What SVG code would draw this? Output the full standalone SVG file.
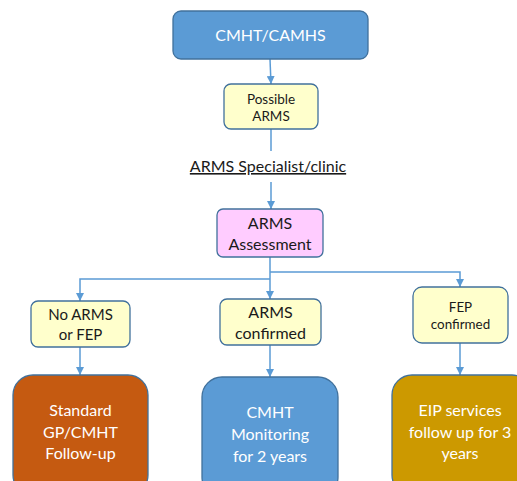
<svg xmlns="http://www.w3.org/2000/svg" width="517" height="481" viewBox="0 0 517 481">
<defs>
<marker id="ah" viewBox="0 0 10 10" refX="10" refY="5" markerWidth="8" markerHeight="8" markerUnits="userSpaceOnUse" orient="auto"><path d="M0,0 L10,5 L0,10 z" fill="#5B9BD5"/></marker>
</defs>
<style>
text{font-family:Lato,"Open Sans","Liberation Sans",sans-serif;text-anchor:middle}
.con{fill:none;stroke:#5B9BD5;stroke-width:1.5;marker-end:url(#ah)}
.ln{fill:none;stroke:#5B9BD5;stroke-width:1.5}
.y{fill:#FFFFCC;stroke:#41719C;stroke-width:1.3}
.dk{font-size:15px;fill:#1a1a1a}
.wt{font-size:16px;fill:#ffffff}
</style>
<rect width="517" height="481" fill="#ffffff"/>
<g id="connectors">
<path class="con" d="M270,59 L271,84"/>
<path class="ln" d="M271,129 L271,151"/>
<path class="con" d="M271,182 L271,209"/>
<path class="ln" d="M270,257 L270,279"/>
<path class="con" d="M270,279 L80,279 L80,301"/>
<path class="con" d="M270,279 L270,299"/>
<path class="con" d="M270,272 L460,272 L460,287"/>
<path class="con" d="M80,347 L80,375"/>
<path class="con" d="M270,345 L270,377"/>
<path class="con" d="M460,343 L460,375"/>
</g>
<g id="cmht-camhs">
<rect x="173" y="11" width="195" height="48" rx="8" fill="#5B9BD5" stroke="#41719C" stroke-width="1.3"/>
<text x="270.5" y="41" class="wt">CMHT/CAMHS</text>
</g>
<g id="possible-arms">
<rect class="y" x="224" y="84" width="94" height="45" rx="7"/>
<text x="271" y="104" class="dk" style="font-size:13.5px">Possible</text>
<text x="271" y="121" class="dk" style="font-size:13.5px">ARMS</text>
</g>
<g id="arms-specialist">
<text x="268" y="172" style="font-size:16px;fill:#1a1a1a;text-decoration:underline">ARMS Specialist/clinic</text>
</g>
<g id="arms-assessment">
<rect x="217" y="209" width="106" height="48" rx="6" fill="#FFCCFF" stroke="#41719C" stroke-width="1.3"/>
<text x="270" y="229" class="dk" style="font-size:16px">ARMS</text>
<text x="270" y="250" class="dk" style="font-size:16px">Assessment</text>
</g>
<g id="no-arms">
<rect class="y" x="31" y="301" width="99" height="46" rx="7"/>
<text x="80.5" y="320" class="dk">No ARMS</text>
<text x="80.5" y="340" class="dk">or FEP</text>
</g>
<g id="arms-confirmed">
<rect class="y" x="220" y="299" width="101" height="46" rx="7"/>
<text x="270.5" y="318" class="dk" style="font-size:16px">ARMS</text>
<text x="270.5" y="339" class="dk" style="font-size:16px">confirmed</text>
</g>
<g id="fep-confirmed">
<rect class="y" x="413" y="287" width="95" height="56" rx="9"/>
<text x="460.5" y="312" class="dk" style="font-size:13.4px">FEP</text>
<text x="460.5" y="329" class="dk" style="font-size:13.4px">confirmed</text>
</g>
<g id="standard">
<rect x="13" y="375" width="135" height="120" rx="20" fill="#C55A11" stroke="#41719C" stroke-width="1.3"/>
<text x="80.5" y="416" class="wt">Standard</text>
<text x="80.5" y="438" class="wt">GP/CMHT</text>
<text x="80.5" y="459" class="wt">Follow-up</text>
</g>
<g id="cmht-monitoring">
<rect x="202" y="377" width="136" height="120" rx="20" fill="#5B9BD5" stroke="#41719C" stroke-width="1.3"/>
<text x="270" y="418" class="wt">CMHT</text>
<text x="270" y="440" class="wt">Monitoring</text>
<text x="270" y="462" class="wt">for 2 years</text>
</g>
<g id="eip-services">
<rect x="392" y="375" width="140" height="120" rx="20" fill="#CC9900" stroke="#41719C" stroke-width="1.3"/>
<text x="460" y="416" class="wt">EIP services</text>
<text x="460" y="438" class="wt">follow up for 3</text>
<text x="460" y="459" class="wt">years</text>
</g>
</svg>
